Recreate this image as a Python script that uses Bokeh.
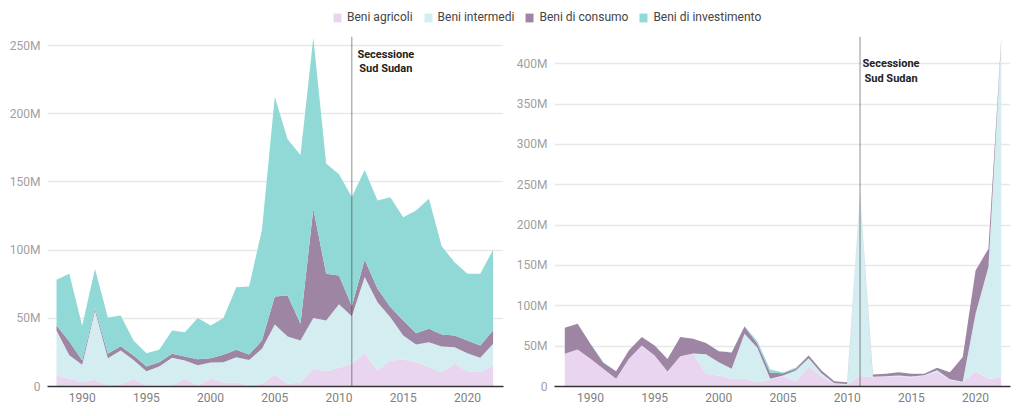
from bokeh.plotting import figure
from bokeh.models import ColumnDataSource, Span, Label, Legend, LegendItem, FixedTicker, Range1d
from bokeh.layouts import column, row
from bokeh.embed import file_html
from bokeh.resources import INLINE

years = list(range(1988, 2023))
series_names = ["Beni agricoli", "Beni intermedi", "Beni di consumo", "Beni di investimento"]
colors = ["#e9d5f0", "#d4edf0", "#9e85a3", "#91d9d7"]

# Left panel (millions)
left_agri = [8.1, 5.6, 3.2, 4.9, 0.7, 1.5, 5.6, 0.7, 0.5, 0.5, 6.1, 0.5, 6.1, 3.2, 2.7, 0.7, 2.0,
             8.6, 2.2, 2.7, 13.0, 11.2, 13.7, 16.6, 24.4, 11.7, 19.0, 19.8, 17.8, 14.2, 10.5, 16.6,
             11.2, 10.5, 15.4]
left_inter = [32.9, 17.4, 12.8, 50.8, 20.1, 24.9, 13.9, 10.5, 14.2, 20.5, 12.9, 15.1, 11.5, 14.6,
              18.8, 18.8, 25.6, 36.9, 34.5, 31.0, 37.3, 37.2, 46.6, 34.9, 55.8, 50.1, 31.8, 17.6,
              13.0, 18.3, 18.8, 12.2, 13.2, 10.5, 15.9]
left_cons = [3.7, 10.0, 3.0, 1.7, 3.2, 3.2, 3.2, 3.5, 3.1, 3.0, 3.0, 4.4, 3.2, 5.4, 5.4, 4.0, 6.1,
             20.5, 30.0, 12.3, 80.0, 34.2, 21.1, 7.5, 12.7, 9.8, 7.4, 11.0, 8.3, 9.8, 8.8, 8.6,
             9.3, 9.1, 9.8]
left_inv = [33.5, 49.6, 25.5, 28.9, 26.5, 22.4, 11.0, 9.7, 9.2, 17.0, 17.8, 30.3, 23.9, 27.0, 45.9,
            49.8, 81.3, 146.5, 114.5, 123.7, 125.5, 80.9, 74.3, 80.0, 65.9, 64.8, 80.6, 75.7,
            89.9, 95.3, 64.7, 53.7, 48.9, 52.5, 59.2]

# Right panel (millions)
right_agri = [40.5, 45.9, 34.3, 21.9, 9.5, 34.3, 50.8, 38.4, 18.6, 37.6, 40.5, 15.7, 13.6, 9.5,
              9.5, 5.4, 8.7, 13.0, 6.2, 24.8, 12.4, 3.3, 2.5, 13.0, 11.6, 12.4, 12.8, 10.7, 13.6,
              17.8, 8.3, 5.4, 19.0, 9.5, 10.7]
right_inter = [0, 0, 0, 0, 0, 0, 0, 0, 0, 0, 0.5, 24.3, 16.4, 12.4, 56.0, 42.6, 0.8, 0.6, 13.6,
               10.2, 4.1, 0.7, 0.5, 226.5, 0.4, 0.4, 0.7, 1.8, 0.4, 2.2, 0.7, 0.6, 71.0, 138.5,
               417.3]
right_cons = [32.2, 31.8, 18.6, 7.6, 9.3, 10.7, 10.4, 12.4, 15.4, 23.6, 18.1, 14.0, 13.6, 20.1,
              8.9, 5.0, 7.5, 2.9, 2.1, 3.4, 3.3, 2.6, 2.4, 0.5, 2.9, 2.9, 4.3, 3.2, 1.7, 3.1,
              8.8, 30.4, 53.8, 22.7, 3.0]
right_inv = [0, 0, 0, 1.0, 0, 0, 0, 0, 0, 0, 0, 0, 0.4, 0.5, 0.6, 3.0, 4.0, 1.0, 1.6, 0.4, 0, 0,
             0, 0, 0, 0, 0, 0, 0, 0, 0, 0, 0, 0, 0]

x_ticks = [1990, 1995, 2000, 2005, 2010, 2015, 2020]
left_y_ticks = [0, 50, 100, 150, 200, 250]
right_y_ticks = [0, 50, 100, 150, 200, 250, 300, 350, 400]
event_year = 2011
event_text = "Secessione\nSud Sudan"

FONT = "Roboto"


def make_panel(width, border_left, border_right, x0, x1, ymax, yticks, data, label_y, label_dx):
    p = figure(width=width, height=374, x_range=Range1d(x0, x1), y_range=Range1d(0, ymax),
               output_backend="svg", toolbar_location=None,
               min_border_left=border_left, min_border_right=border_right,
               min_border_top=0, min_border_bottom=24)
    src = ColumnDataSource(dict(year=years, agri=data[0], inter=data[1], cons=data[2], inv=data[3]))
    p.varea_stack(stackers=["agri", "inter", "cons", "inv"], x="year", color=colors, source=src)
    p.add_layout(Span(location=event_year, dimension="height", line_color="#333333",
                      line_alpha=0.55, line_width=1))
    p.add_layout(Label(x=event_year, y=label_y, x_offset=label_dx, text=event_text,
                       text_align="center", text_baseline="top", text_font_style="bold",
                       text_font_size="11px", text_font=FONT, text_color="#222222",
                       text_line_height=1.15))
    p.outline_line_color = None
    p.xgrid.grid_line_color = None
    p.ygrid.grid_line_color = "#e8e8e8"
    p.ygrid.grid_line_width = 1.5
    p.ygrid.ticker = FixedTicker(ticks=yticks)
    p.yaxis.ticker = FixedTicker(ticks=yticks)
    p.yaxis.major_label_overrides = {t: ("0" if t == 0 else f"{t}M") for t in yticks}
    p.yaxis.axis_line_color = None
    p.yaxis.major_tick_line_color = None
    p.yaxis.minor_tick_line_color = None
    p.yaxis.major_tick_out = 0
    p.yaxis.major_label_standoff = 7
    p.yaxis.major_label_text_color = "#a0a0a0"
    p.yaxis.major_label_text_font = FONT
    p.yaxis.major_label_text_font_size = "12px"
    p.xaxis.ticker = FixedTicker(ticks=x_ticks)
    p.xaxis.axis_line_color = "#333333"
    p.xaxis.axis_line_width = 1.5
    p.xaxis.major_tick_line_color = None
    p.xaxis.minor_tick_line_color = None
    p.xaxis.major_tick_out = 0
    p.xaxis.major_label_standoff = 6
    p.xaxis.major_label_text_color = "#808080"
    p.xaxis.major_label_text_font = FONT
    p.xaxis.major_label_text_font_size = "12px"
    return p


p1 = make_panel(513, 47, 10, 1987.3, 2022.81, 256.6, left_y_ticks,
                [left_agri, left_inter, left_cons, left_inv], 248.5, 34)
p2 = make_panel(507, 40, 10, 1987.2, 2022.72, 433.7, right_y_ticks,
                [right_agri, right_inter, right_cons, right_inv], 407.7, 31)

# Legend strip
pl = figure(width=1020, height=36, output_backend="svg", toolbar_location=None,
            x_range=Range1d(0, 1), y_range=Range1d(0, 1), min_border=0)
pl.axis.visible = False
pl.grid.visible = False
pl.outline_line_color = None
items = []
for name, c in zip(series_names, colors):
    r = pl.varea(x=[0.5], y1=[0], y2=[0], fill_color=c)
    items.append(LegendItem(label=name, renderers=[r]))
leg = Legend(items=items, orientation="horizontal", location=(332, 12),
             glyph_width=10, glyph_height=11, label_standoff=5, spacing=10,
             padding=0, margin=0, border_line_color=None, background_fill_alpha=0,
             label_text_font=FONT, label_text_font_size="12px", label_text_color="#444444",
             label_height=12)
pl.add_layout(leg)

layout = column(pl, row(p1, p2))
open("out.html", "w").write(file_html(layout, INLINE))
